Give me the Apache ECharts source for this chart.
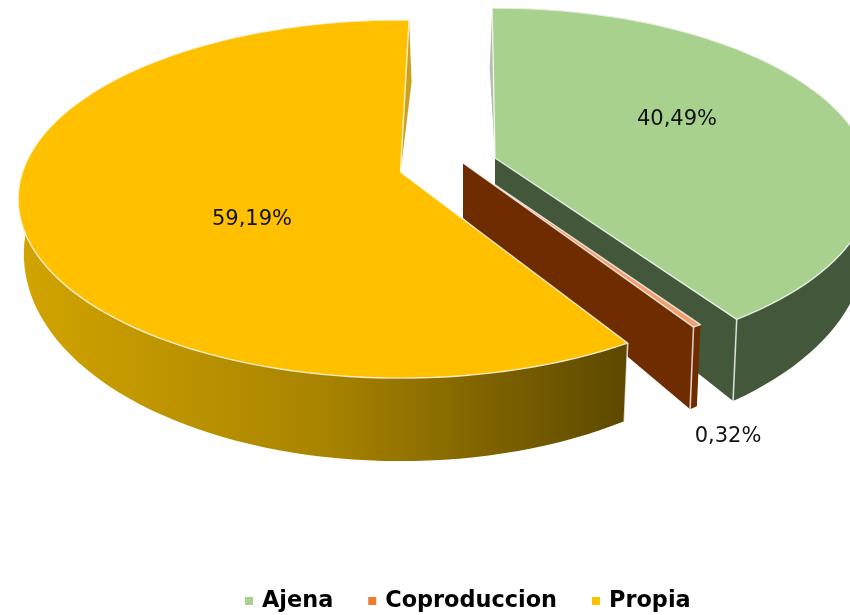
<!DOCTYPE html>
<html>
<head>
<meta charset="utf-8">
<style>
  html, body { margin: 0; padding: 0; background: #fff; }
  #main { width: 850px; height: 615px; filter: blur(0.5px); }
</style>
<script src="https://cdn.jsdelivr.net/npm/echarts@6/dist/echarts.min.js"></script>
</head>
<body>
<div id="main"></div>
<script>
var categories = ['Ajena', 'Coproduccion', 'Propia'];
var shares = [40.49, 0.32, 59.19];

var topColors = ['#a9d18e', '#f0a070', '#ffc000'];
var legendColors = ['#a9d18e', '#ed7d31', '#ffc000'];
var sideColors = ['#43573a', '#6f2c00', '#a98400'];

// where each exploded slice sits: apex, rotation in degrees, radius factor, wall height, label position
var apexX = [495, 463, 400.5];
var apexY = [158, 163, 172];
var turn = [-0.5, 0, 1.5];
var radius = [0.985, 0.98, 1];
var wallBase = [55, 55, 50];
var labelX = [677, 728, 252];
var labelY = [120, 437, 220];

// tilted disc with a bit of perspective
var rx = 378;
var ry = 175;
var persp = 0.151;

function rimPoint(i, deg) {
  var a = deg * Math.PI / 180;
  var u = Math.sin(a) * radius[i];
  var v = -Math.cos(a) * radius[i];
  var s = 1 / (1 - persp * v);
  return { x: apexX[i] + rx * u * s, y: apexY[i] + ry * v * s, v: v };
}

function dropPoint(i, p) {
  return [apexX[i] + (p.x - apexX[i]) * 0.985, p.y + wallBase[i] + 33 * p.v];
}

function polygon(points, fill, stroke) {
  return {
    type: 'polygon',
    shape: { points: points },
    style: { fill: fill, stroke: stroke || null, lineWidth: 1.4, lineJoin: 'round' }
  };
}

function sideFill(i) {
  if (i !== 2) return sideColors[i];
  return new echarts.graphic.LinearGradient(0, 0, 1, 0, [
    { offset: 0, color: '#d2a400' },
    { offset: 0.5, color: sideColors[i] },
    { offset: 0.8, color: '#7a5f00' },
    { offset: 1, color: '#5c4800' }
  ]);
}

function renderSlice(i, api) {
  var value = api.value(0);
  var before = 0;
  for (var k = 0; k < i; k++) before += shares[k];
  var start = before * 3.6 + turn[i];
  var end = start + value * 3.6;
  // the thinnest slice is drawn a little wider than its share, as in the picture
  if (end - start < 1.2) end = start + 1.2;

  var rim = [];
  var steps = Math.max(2, Math.ceil((end - start) / 2));
  for (var n = 0; n <= steps; n++) {
    rim.push(rimPoint(i, start + (end - start) * n / steps));
  }
  var first = rim[0];
  var last = rim[rim.length - 1];
  var apex = [apexX[i], apexY[i]];
  var edge = 'rgba(255,255,255,0.75)';
  var children = [];

  // radial wall facing the viewer
  var centre = { x: apex[0], y: apex[1], v: 0 };
  var radial = i === 2 ? first : last;
  if (i !== 2) {
    children.push(polygon([apex, [radial.x, radial.y], dropPoint(i, radial), dropPoint(i, centre)], sideColors[i]));
  }

  // outer wall
  var wall = rim.map(function (p) { return [p.x, p.y]; });
  var under = rim.map(function (p) { return dropPoint(i, p); }).reverse();
  children.push(polygon(wall.concat(under), sideFill(i)));
  children.push({
    type: 'line',
    shape: { x1: radial.x, y1: radial.y, x2: dropPoint(i, radial)[0], y2: dropPoint(i, radial)[1] },
    style: { stroke: edge, lineWidth: 1.6 }
  });

  // thin visible part of the back wall
  if (i !== 1) {
    var back = i === 2 ? last : first;
    var side = i === 2 ? 2.5 : -2.5;
    children.push(polygon([
      [back.x, back.y],
      [back.x + side, apex[1] - 90],
      apex
    ], i === 2 ? '#c9a21e' : '#b5bdb0'));
  }

  // top face
  children.push(polygon([apex].concat(wall), topColors[i], edge));

  // share label
  children.push({
    type: 'text',
    style: {
      text: value.toFixed(2).replace('.', ',') + '%',
      x: labelX[i],
      y: labelY[i],
      align: 'center',
      verticalAlign: 'middle',
      fill: '#111',
      font: '21px "DejaVu Sans"'
    }
  });

  return { type: 'group', children: children };
}

var chart = echarts.init(document.getElementById('main'));

chart.setOption({
  animation: false,
  backgroundColor: '#fff',
  legend: {
    left: 240,
    top: 585,
    icon: 'rect',
    itemWidth: 8,
    itemHeight: 8,
    itemGap: 35,
    data: categories,
    textStyle: { fontFamily: 'DejaVu Sans', fontWeight: 'bold', fontSize: 22.4, color: '#000', padding: [0, 0, 0, 4] }
  },
  series: categories.map(function (name, i) {
    return {
      type: 'custom',
      name: name,
      coordinateSystem: 'none',
      z: i,
      itemStyle: { color: legendColors[i] },
      renderItem: function (params, api) { return renderSlice(i, api); },
      data: [[shares[i]]]
    };
  })
});
</script>
</body>
</html>
